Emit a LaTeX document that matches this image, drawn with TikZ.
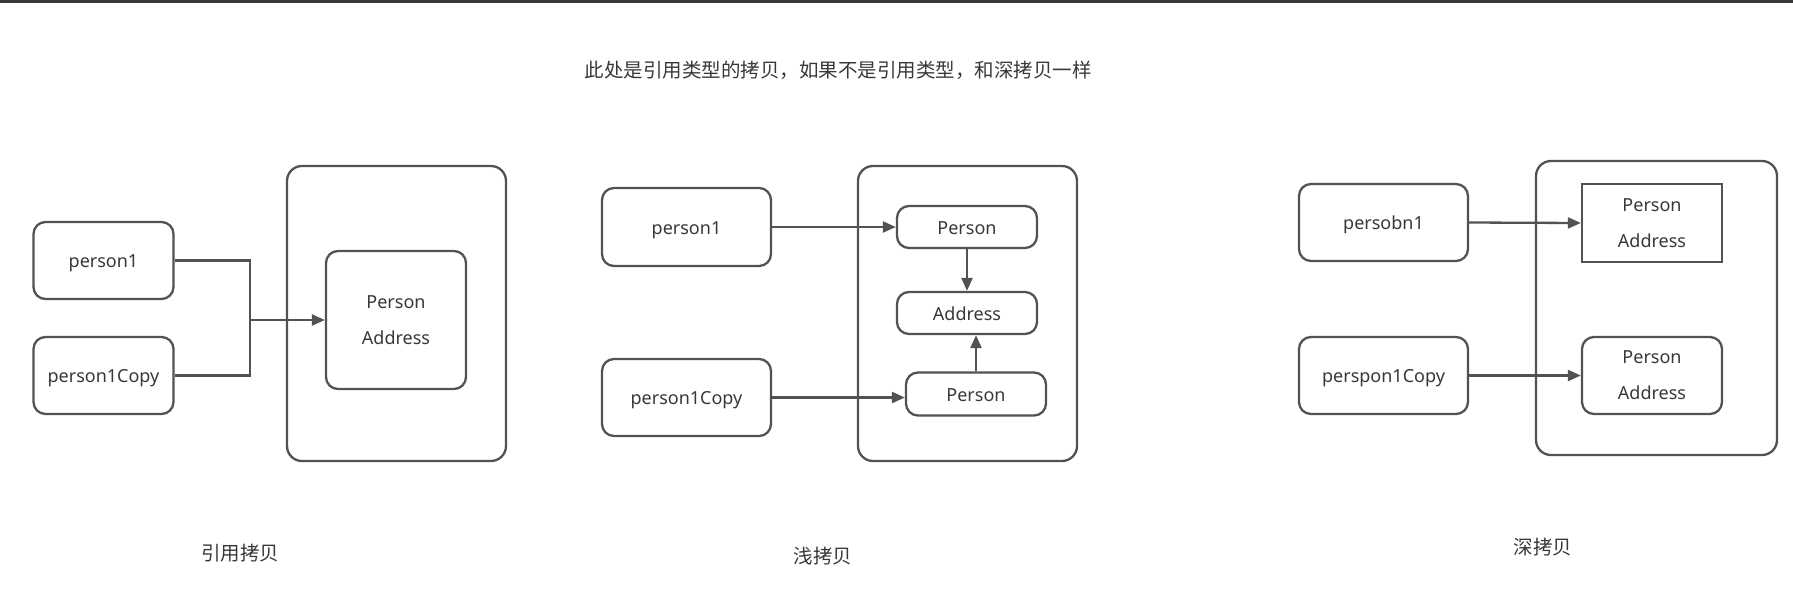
\documentclass[tikz,border=0pt]{standalone}
\usepackage{fontspec}
\setmainfont{Noto Sans}
\newfontfamily\cjk{Noto Sans CJK SC}
\usetikzlibrary{%
	arrows.meta,%
	positioning,%
	calc
}
\definecolor{linegray}{HTML}{525252}
\definecolor{textgray}{HTML}{383838}

\tikzset{
	objbox/.style={draw=linegray, line width=2.3pt, rounded corners=12pt, text=textgray,
		align=center, font=\fontsize{18}{36}\selectfont, inner sep=0pt},
	oneline/.style={text height=14pt, text depth=0pt},
	heapbox/.style={draw=linegray, line width=2.3pt, rounded corners=15pt, inner sep=0pt},
	refarrow/.style={draw=linegray, line width=2.3pt, -{Triangle[length=13pt,width=11pt]}},
	refline/.style={draw=linegray, line width=2.3pt},
	caption/.style={text=textgray, font=\cjk\fontsize{19.5}{22}\selectfont, inner sep=0pt}
}

\begin{document}
\begin{tikzpicture}[x=1pt, y=-1pt]
		\useasboundingbox (0,0) rectangle (1793,590);
		\fill[black!78] (0,0) rectangle (1793,3);
		
		\node[caption] (title) at (838,70) {此处是引用类型的拷贝，如果不是引用类型，和深拷贝一样};
		
		% 引用拷贝
		\node[heapbox, minimum width=219pt, minimum height=295pt] (heap1) at (396.5,313.5) {};
		\node[objbox, oneline, minimum width=140pt, minimum height=77pt] (ref1) at (103.5,260.5) {person1};
		\node[objbox, oneline, minimum width=140pt, minimum height=77pt] (ref1copy) at (103.5,375.5) {person1Copy};
		\node[objbox, minimum width=140pt, minimum height=138pt] (obj1) at (396,320) {Person\\Address};
		\coordinate (join1) at (250,320);
		\draw[refline] (ref1.east) -| (join1);
		\draw[refline] (ref1copy.east) -| (join1);
		\draw[refarrow] (join1) -- (obj1.west);
		\node[caption] (label1) at (240,553) {引用拷贝};
		
		% 浅拷贝
		\node[heapbox, minimum width=219pt, minimum height=295pt] (heap2) at (967.5,313.5) {};
		\node[objbox, oneline, minimum width=169pt, minimum height=78pt] (ref2) at (686.5,227) {person1};
		\node[objbox, oneline, minimum width=169pt, minimum height=77pt] (ref2copy) at (686.5,397.5) {person1Copy};
		\node[objbox, oneline, minimum width=140pt, minimum height=42pt] (person2) at (967,227) {Person};
		\node[objbox, oneline, minimum width=140pt, minimum height=42pt] (address2) at (967,313) {Address};
		\node[objbox, oneline, minimum width=140pt, minimum height=43pt] (person2copy) at (976,394) {Person};
		\draw[refarrow] (ref2.east) -- (person2.west);
		\draw[refarrow] (ref2copy.east) -- (ref2copy.east -| person2copy.west);
		\draw[refarrow] (person2.south) -- (address2.north);
		\draw[refarrow] (person2copy.north) -- (person2copy.north |- address2.south);
		\node[caption] (label2) at (823,556) {浅拷贝};
		
		% 深拷贝
		\node[heapbox, minimum width=241pt, minimum height=294pt] (heap3) at (1656.5,308) {};
		\node[objbox, oneline, minimum width=169pt, minimum height=77pt] (ref3) at (1383.5,222.5) {persobn1};
		\node[objbox, oneline, minimum width=169pt, minimum height=77pt] (ref3copy) at (1383.5,375.5) {perspon1Copy};
		\node[objbox, sharp corners, minimum width=140pt, minimum height=78pt] (obj3) at (1652,223) {Person\\Address};
		\node[objbox, minimum width=140pt, minimum height=77pt] (obj3copy) at (1652,375.5) {Person\\Address};
		\draw[refarrow] (ref3.east) -- (obj3.west);
		\draw[refarrow] (ref3copy.east) -- (obj3copy.west);
		\node[caption] (label3) at (1543,547) {深拷贝};

	\end{tikzpicture}
\end{document}
